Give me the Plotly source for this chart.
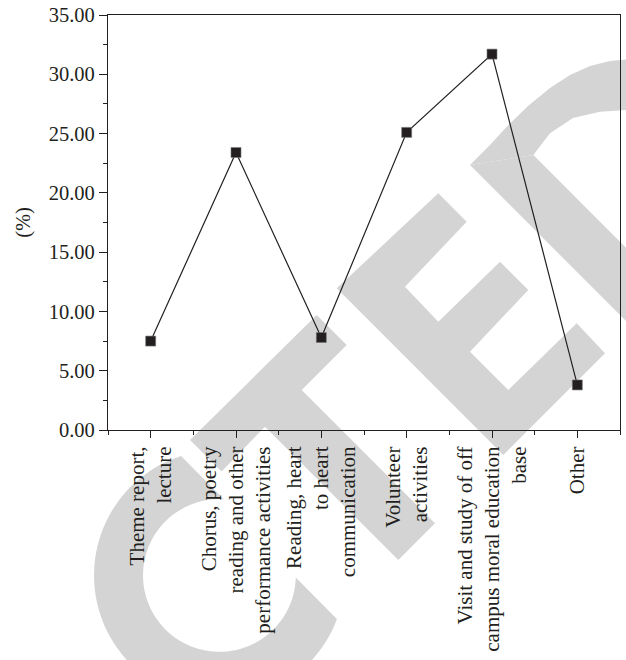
import numpy as np
import plotly.graph_objects as go

# ---------------- data ----------------
categories = [
    "Theme report,<br>lecture",
    "Chorus, poetry<br>reading and other<br>performance activities",
    "Reading, heart<br>to heart<br>communication",
    "Volunteer<br>activities",
    "Visit and study of off<br>campus moral education<br>base",
    "Other",
]
values = [7.5, 23.4, 7.8, 25.1, 31.7, 3.8]
y_tick_values = [0, 5, 10, 15, 20, 25, 30, 35]
y_title = "(%)"

# ---------------- layout constants ----------------
W, H = 626, 660
ML, MR, MT, MB = 108, 6, 15, 230
PW = W - ML - MR
PH = H - MT - MB
INK = "#231f20"
WM = "#d4d4d4"
FONT = "Liberation Serif"


def to_paper(pts):
    return [((x - ML) / PW, (H - MB - y) / PH) for x, y in pts]


def path_of(pts):
    pp = to_paper(pts)
    return "M " + " L ".join(f"{x:.4f},{y:.4f}" for x, y in pp) + " Z"


# watermark outlines (window pixel geometry of the background stamp)
cx, cy, R, r = 219.4, 575.4, 125.4, 76.4
a_out = np.radians(np.linspace(252.2, 20.4, 80))
a_in = np.radians(np.linspace(1.5, 273.4, 80))
letter_c = [(cx + R * np.cos(a), cy + R * np.sin(a)) for a in a_out] + \
           [(cx + r * np.cos(a), cy + r * np.sin(a)) for a in a_in]
letter_t = [(190, 440), (316.7, 315), (346.7, 345), (301.7, 390), (435, 523.3),
            (398.3, 560), (265, 426.7), (221.6, 471.4)]
letter_e = [(336.7, 288.3), (438.3, 193.3), (466.7, 221.7), (405, 286.7), (438.3, 321.7),
            (500, 261.7), (528.3, 290), (470, 351.7), (508.3, 390), (576.7, 323.3),
            (605, 353.3), (503.3, 455)]
letter_d_spine = [(470, 165), (533.3, 155), (750, 371.7), (700, 395)]
letter_d_bowl = [(470, 165), (490, 145), (506.7, 126.7), (528, 106), (550, 88), (570, 75),
                 (590, 66), (610, 61), (630, 59), (680, 62), (720, 70),
                 (720, 125), (680, 115), (650, 111), (626, 110), (600, 111.7),
                 (573, 118), (550, 133.3), (533.3, 155)]

shapes = []
for poly in [letter_c, letter_t, letter_e, letter_d_spine, letter_d_bowl]:
    shapes.append(dict(type="path", xref="paper", yref="paper", path=path_of(poly),
                       fillcolor=WM, line=dict(width=0), layer="below"))

x_idx = list(range(len(categories)))

fig = go.Figure()
fig.add_trace(go.Scatter(
    x=x_idx, y=values, mode="lines+markers",
    line=dict(color=INK, width=1.2),
    marker=dict(symbol="square", size=10, color=INK, line=dict(width=0.6, color="#777")),
    showlegend=False, cliponaxis=False,
))

axis_common = dict(
    showline=True, linecolor=INK, linewidth=1.2, mirror=True,
    showgrid=False, zeroline=False,
    ticks="outside", tickcolor=INK, tickwidth=1.2,
    ticklabeloverflow="allow",
)

fig.update_layout(
    width=W, height=H,
    margin=dict(l=ML, r=MR, t=MT, b=MB, autoexpand=False),
    paper_bgcolor="white", plot_bgcolor="rgba(0,0,0,0)",
    shapes=shapes,
    xaxis=dict(
        **axis_common,
        tickfont=dict(family=FONT, size=21, color=INK),
        range=[-0.5, len(categories) - 0.5],
        tickmode="array", tickvals=x_idx, ticktext=categories,
        tickangle=-90, ticklen=7,
        minor=dict(tickmode="array",
                   tickvals=[i - 0.5 for i in range(len(categories) + 1)],
                   ticks="outside", ticklen=4, tickcolor=INK, tickwidth=1.2),
    ),
    yaxis=dict(
        **axis_common,
        tickfont=dict(family=FONT, size=20.5, color=INK),
        range=[0, 35],
        tickmode="array", tickvals=y_tick_values,
        ticktext=[f"{v:.2f}" for v in y_tick_values],
        ticklen=8,
        minor=dict(tickmode="array",
                   tickvals=[v + 2.5 for v in y_tick_values[:-1]],
                   ticks="outside", ticklen=4, tickcolor=INK, tickwidth=1.2),
        title=dict(text=y_title, font=dict(family=FONT, size=20.5, color=INK), standoff=12),
    ),
)

fig.write_html("out.html",
               config={"displayModeBar": False},
               post_script="document.body.style.margin='0px';document.body.style.overflow='hidden';")
